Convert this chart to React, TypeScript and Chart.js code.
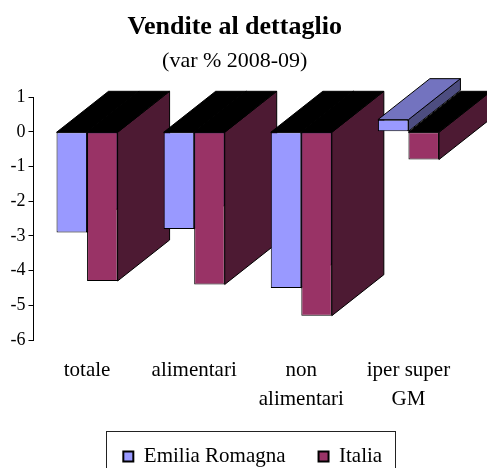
import React, { useEffect, useRef } from 'react';
import { Chart, registerables } from 'chart.js';

Chart.register(...registerables);

const categories: (string | string[])[] = ['totale', 'alimentari', ['non', 'alimentari'], ['iper super', 'GM']];
const seriesNames = ['Emilia Romagna', 'Italia'];
const emiliaRomagna = [-2.9, -2.8, -4.5, 0.35];
const italia = [-4.3, -4.4, -5.3, -0.8];

const frontColors = ['#9999FF', '#993366'];
const topColors = ['#7373BF', '#732650'];
const sideColors = ['#4D4D80', '#4D1A33'];
const DX = 52;
const DY = -41;
const LEGEND_SHIFT = 18;

const FONT = '"Liberation Serif", "Times New Roman", serif';

const depthPlugin = {
  id: 'depth3d',
  beforeDatasetsDraw(chart: any) {
    const ctx = chart.ctx as CanvasRenderingContext2D;
    const n = chart.data.labels.length;
    const metas = chart.data.datasets.map((_: any, i: number) => chart.getDatasetMeta(i));
    const poly = (pts: number[][], fill: string) => {
      ctx.beginPath();
      ctx.moveTo(pts[0][0], pts[0][1]);
      for (let k = 1; k < pts.length; k++) ctx.lineTo(pts[k][0], pts[k][1]);
      ctx.closePath();
      ctx.fillStyle = fill;
      ctx.fill();
      ctx.stroke();
    };
    ctx.save();
    ctx.lineWidth = 1;
    ctx.strokeStyle = '#000';
    ctx.lineJoin = 'miter';
    for (let i = 0; i < n; i++) {
      metas.forEach((meta: any, d: number) => {
        const el = meta.data[i];
        if (!el) return;
        const p = el.getProps(['x', 'y', 'base', 'width'], true);
        const left = p.x - p.width / 2;
        const right = p.x + p.width / 2;
        const top = Math.min(p.y, p.base);
        const bottom = Math.max(p.y, p.base);
        const value = chart.data.datasets[d].data[i];
        poly([[right, top], [right + DX, top + DY], [right + DX, bottom + DY], [right, bottom]], sideColors[d]);
        poly([[left, top], [left + DX, top + DY], [right + DX, top + DY], [right, top]], value < 0 ? '#000' : topColors[d]);
      });
    }
    ctx.restore();
  },
};

const legendPlugin = {
  id: 'legendFrame',
  afterLayout(chart: any) {
    const lg = chart.legend;
    if (lg) {
      lg.left += LEGEND_SHIFT;
      lg.right += LEGEND_SHIFT;
    }
  },
  afterDraw(chart: any) {
    const lg = chart.legend;
    if (!lg || !lg.legendHitBoxes || !lg.legendHitBoxes.length) return;
    const hb = lg.legendHitBoxes;
    let minX = Infinity, maxX = -Infinity, minY = Infinity;
    hb.forEach((h: any) => {
      minX = Math.min(minX, h.left);
      maxX = Math.max(maxX, h.left + h.width);
      minY = Math.min(minY, h.top);
    });
    const ctx = chart.ctx as CanvasRenderingContext2D;
    ctx.save();
    ctx.strokeStyle = '#222';
    ctx.lineWidth = 1;
    const x0 = Math.round(minX - 17) + 0.5;
    const x1 = Math.round(maxX + 13) + 0.5;
    const y0 = Math.round(minY - 15) + 0.5;
    ctx.strokeRect(x0, y0, x1 - x0, 120);
    ctx.restore();
  },
};

export default function App() {
  const ref = useRef<HTMLCanvasElement | null>(null);
  useEffect(() => {
    if (!ref.current) return;
    const chart = new Chart(ref.current, {
      type: 'bar',
      data: {
        labels: categories,
        datasets: [
          {
            label: seriesNames[0],
            data: emiliaRomagna,
            backgroundColor: frontColors[0],
            borderColor: '#000',
            borderWidth: 1,
            borderSkipped: false,
          },
          {
            label: seriesNames[1],
            data: italia,
            backgroundColor: frontColors[1],
            borderColor: '#000',
            borderWidth: 1,
            borderSkipped: false,
          },
        ],
      },
      options: {
        responsive: false,
        animation: false,
        layout: { padding: { left: 7.5, right: 25, top: 0, bottom: -9 } },
        datasets: { bar: { categoryPercentage: 0.57, barPercentage: 1 } },
        scales: {
          x: {
            grid: { display: false, drawTicks: false },
            border: { display: false },
            afterFit: (scale: any) => {
              scale.height = 73;
            },
            ticks: {
              color: '#000',
              padding: 16,
              maxRotation: 0,
              autoSkip: false,
              font: { family: FONT, size: 21, lineHeight: 1.38 },
            },
          },
          y: {
            min: -6,
            max: 1,
            grid: { display: true, drawOnChartArea: false, drawTicks: true, tickLength: 5, color: '#000' },
            border: { display: true, color: '#000', width: 1 },
            ticks: {
              stepSize: 1,
              color: '#000',
              padding: 3,
              font: { family: FONT, size: 18 },
            },
          },
        },
        plugins: {
          title: {
            display: true,
            text: 'Vendite al dettaglio',
            color: '#000',
            font: { family: FONT, size: 26, weight: 'bold' },
            padding: { top: 12, bottom: 0 },
          },
          subtitle: {
            display: true,
            text: '(var % 2008-09)',
            color: '#000',
            font: { family: FONT, size: 22 },
            padding: { top: 5, bottom: 22.5 },
          },
          legend: {
            display: true,
            position: 'bottom',
            labels: {
              color: '#000',
              boxWidth: 10,
              boxHeight: 10,
              padding: 33,
              font: { family: FONT, size: 21 },
              generateLabels: (c: any) =>
                (Chart.defaults.plugins.legend.labels.generateLabels as any)(c).map((l: any) => ({ ...l, lineWidth: 2 })),
            },
          },
          tooltip: { enabled: false },
        },
      },
      plugins: [depthPlugin, legendPlugin],
    });
    return () => chart.destroy();
  }, []);
  return (
    <div style={{ position: 'fixed', left: 0, top: 0, width: 487, height: 468, background: '#fff' }}>
      <canvas ref={ref} width={487} height={468} />
    </div>
  );
}
